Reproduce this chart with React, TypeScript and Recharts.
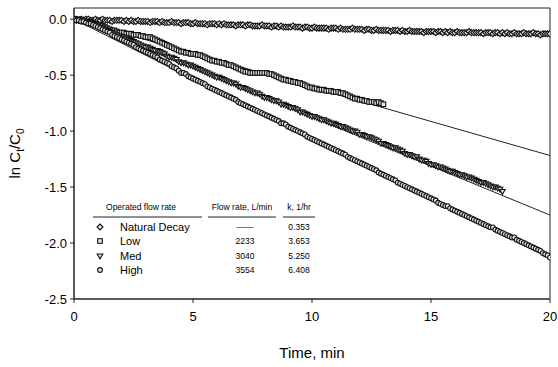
import {
  ComposedChart,
  Label,
  ReferenceArea,
  Scatter,
  XAxis,
  YAxis,
} from 'recharts'

// sampling interval of the logged concentrations, min
const SAMPLE_STEP = 0.1

const NATURAL_DECAY = [
  0.0, 0.0, -0.01, 0.0, -0.01, 0.0, 0.0, -0.01, -0.01, 0.0,
  -0.01, -0.01, 0.0, -0.01, -0.01, -0.01, -0.02, -0.01, -0.01, -0.01,
  -0.01, -0.02, -0.01, -0.02, -0.01, -0.02, -0.02, -0.01, -0.02, -0.02,
  -0.02, -0.02, -0.03, -0.02, -0.02, -0.02, -0.03, -0.02, -0.03, -0.03,
  -0.03, -0.02, -0.03, -0.03, -0.03, -0.04, -0.03, -0.03, -0.03, -0.04,
  -0.04, -0.03, -0.04, -0.04, -0.04, -0.04, -0.05, -0.04, -0.04, -0.04,
  -0.05, -0.04, -0.05, -0.04, -0.05, -0.05, -0.05, -0.05, -0.06, -0.05,
  -0.05, -0.05, -0.06, -0.05, -0.05, -0.06, -0.06, -0.06, -0.06, -0.05,
  -0.06, -0.06, -0.06, -0.07, -0.06, -0.06, -0.07, -0.06, -0.07, -0.07,
  -0.07, -0.07, -0.06, -0.07, -0.07, -0.07, -0.08, -0.07, -0.07, -0.08,
  -0.08, -0.07, -0.08, -0.08, -0.08, -0.08, -0.08, -0.09, -0.08, -0.08,
  -0.08, -0.09, -0.08, -0.09, -0.09, -0.09, -0.09, -0.08, -0.09, -0.09,
  -0.09, -0.09, -0.1, -0.09, -0.09, -0.1, -0.1, -0.09, -0.1, -0.1,
  -0.1, -0.1, -0.1, -0.11, -0.1, -0.1, -0.1, -0.11, -0.1, -0.11,
  -0.11, -0.1, -0.11, -0.11, -0.11, -0.11, -0.11, -0.12, -0.11, -0.11,
  -0.11, -0.11, -0.12, -0.11, -0.11, -0.12, -0.11, -0.12, -0.11, -0.12,
  -0.12, -0.11, -0.12, -0.12, -0.12, -0.12, -0.11, -0.12, -0.12, -0.12,
  -0.12, -0.12, -0.13, -0.12, -0.12, -0.12, -0.13, -0.12, -0.12, -0.13,
  -0.12, -0.13, -0.12, -0.13, -0.13, -0.12, -0.13, -0.13, -0.13, -0.12,
  -0.13, -0.13, -0.13, -0.12, -0.13, -0.13, -0.14, -0.13, -0.13, -0.13,
  -0.13,
]

const LOW_FLOW = [
  0.0, -0.01, 0.0, -0.01, -0.02, -0.02, -0.03, -0.02, -0.03, -0.04,
  -0.05, -0.05, -0.06, -0.07, -0.08, -0.09, -0.1, -0.1, -0.11, -0.12,
  -0.12, -0.12, -0.13, -0.13, -0.13, -0.14, -0.14, -0.14, -0.15, -0.15,
  -0.16, -0.16, -0.16, -0.17, -0.18, -0.19, -0.2, -0.21, -0.22, -0.23,
  -0.24, -0.25, -0.26, -0.27, -0.28, -0.29, -0.29, -0.3, -0.3, -0.31,
  -0.31, -0.31, -0.32, -0.32, -0.33, -0.34, -0.35, -0.36, -0.37, -0.37,
  -0.38, -0.38, -0.39, -0.39, -0.4, -0.41, -0.41, -0.42, -0.43, -0.44,
  -0.45, -0.46, -0.47, -0.47, -0.48, -0.48, -0.48, -0.48, -0.48, -0.48,
  -0.48, -0.48, -0.49, -0.49, -0.5, -0.51, -0.52, -0.53, -0.54, -0.54,
  -0.55, -0.55, -0.56, -0.56, -0.57, -0.57, -0.58, -0.59, -0.6, -0.61,
  -0.61, -0.62, -0.62, -0.63, -0.63, -0.63, -0.64, -0.64, -0.64, -0.65,
  -0.65, -0.65, -0.66, -0.66, -0.67, -0.68, -0.69, -0.7, -0.71, -0.71,
  -0.72, -0.72, -0.73, -0.73, -0.74, -0.74, -0.74, -0.75, -0.74, -0.75,
  -0.76,
]

const MED_FLOW = [
  0.0, -0.01, -0.01, 0.0, -0.01, -0.02, -0.02, -0.03, -0.04, -0.05,
  -0.06, -0.07, -0.08, -0.09, -0.1, -0.11, -0.12, -0.13, -0.14, -0.15,
  -0.16, -0.16, -0.17, -0.18, -0.19, -0.2, -0.21, -0.22, -0.23, -0.24,
  -0.25, -0.25, -0.26, -0.27, -0.28, -0.28, -0.29, -0.3, -0.31, -0.33,
  -0.34, -0.34, -0.35, -0.36, -0.38, -0.39, -0.39, -0.4, -0.41, -0.41,
  -0.42, -0.43, -0.44, -0.45, -0.46, -0.47, -0.48, -0.49, -0.5, -0.51,
  -0.52, -0.52, -0.53, -0.54, -0.55, -0.56, -0.57, -0.57, -0.58, -0.6,
  -0.61, -0.61, -0.62, -0.63, -0.64, -0.65, -0.66, -0.66, -0.67, -0.69,
  -0.7, -0.7, -0.71, -0.72, -0.73, -0.73, -0.74, -0.76, -0.76, -0.77,
  -0.78, -0.79, -0.79, -0.8, -0.81, -0.83, -0.83, -0.84, -0.85, -0.86,
  -0.87, -0.87, -0.88, -0.89, -0.9, -0.9, -0.91, -0.92, -0.93, -0.93,
  -0.94, -0.95, -0.96, -0.96, -0.97, -0.98, -0.99, -1.0, -1.0, -1.01,
  -1.03, -1.03, -1.04, -1.05, -1.05, -1.06, -1.07, -1.08, -1.09, -1.11,
  -1.11, -1.12, -1.13, -1.14, -1.15, -1.15, -1.16, -1.17, -1.18, -1.2,
  -1.21, -1.21, -1.22, -1.23, -1.23, -1.25, -1.26, -1.26, -1.27, -1.29,
  -1.3, -1.3, -1.31, -1.32, -1.32, -1.33, -1.34, -1.35, -1.36, -1.36,
  -1.37, -1.38, -1.39, -1.39, -1.4, -1.41, -1.41, -1.42, -1.43, -1.44,
  -1.45, -1.46, -1.46, -1.47, -1.48, -1.49, -1.5, -1.5, -1.51, -1.52,
  -1.54,
]

const HIGH_FLOW = [
  0.0, -0.01, -0.01, -0.02, -0.02, -0.03, -0.04, -0.04, -0.05, -0.06,
  -0.07, -0.08, -0.09, -0.1, -0.11, -0.12, -0.14, -0.15, -0.16, -0.17,
  -0.18, -0.19, -0.2, -0.21, -0.22, -0.23, -0.25, -0.26, -0.27, -0.28,
  -0.29, -0.3, -0.31, -0.32, -0.33, -0.34, -0.36, -0.37, -0.38, -0.39,
  -0.4, -0.42, -0.43, -0.44, -0.46, -0.48, -0.48, -0.49, -0.51, -0.52,
  -0.53, -0.54, -0.55, -0.56, -0.57, -0.58, -0.6, -0.61, -0.62, -0.63,
  -0.64, -0.65, -0.66, -0.67, -0.68, -0.69, -0.7, -0.71, -0.72, -0.74,
  -0.75, -0.76, -0.77, -0.78, -0.79, -0.8, -0.81, -0.82, -0.83, -0.84,
  -0.85, -0.86, -0.87, -0.88, -0.89, -0.9, -0.91, -0.93, -0.93, -0.94,
  -0.96, -0.97, -0.98, -0.99, -1.0, -1.01, -1.02, -1.03, -1.05, -1.06,
  -1.07, -1.08, -1.09, -1.1, -1.11, -1.12, -1.13, -1.14, -1.15, -1.16,
  -1.17, -1.18, -1.19, -1.2, -1.21, -1.23, -1.24, -1.25, -1.26, -1.27,
  -1.28, -1.29, -1.3, -1.31, -1.32, -1.33, -1.34, -1.35, -1.37, -1.38,
  -1.39, -1.4, -1.41, -1.42, -1.43, -1.44, -1.46, -1.47, -1.48, -1.49,
  -1.5, -1.51, -1.52, -1.53, -1.54, -1.55, -1.56, -1.57, -1.58, -1.59,
  -1.6, -1.61, -1.62, -1.64, -1.65, -1.66, -1.67, -1.67, -1.69, -1.7,
  -1.71, -1.72, -1.73, -1.74, -1.75, -1.76, -1.77, -1.78, -1.79, -1.8,
  -1.81, -1.82, -1.83, -1.84, -1.85, -1.86, -1.86, -1.88, -1.89, -1.9,
  -1.91, -1.92, -1.93, -1.94, -1.95, -1.95, -1.97, -1.98, -1.99, -2.0,
  -2.01, -2.02, -2.03, -2.04, -2.05, -2.06, -2.07, -2.09, -2.1, -2.11,
  -2.13,
]

// first-order fit lines, end points at 0 and 20 min
const FIT_TIMES = [0, 20]
const LOW_FIT = [0, -1.218]
const MED_FIT = [0, -1.75]
const HIGH_FIT = [0, -2.136]

const X_TICKS = [0, 5, 10, 15, 20]
const Y_TICKS = [-2.5, -2.0, -1.5, -1.0, -0.5, 0.0]

const LEGEND_NAMES = ['Natural Decay', 'Low', 'Med', 'High']
const LEGEND_FLOWS = ['\u2014\u2014', '2233', '3040', '3554']
const LEGEND_K = ['0.353', '3.653', '5.250', '6.408']

const FONT = '"Liberation Sans", Arial, sans-serif'
const INK = '#222'

const toPoints = (vals: number[]) =>
  vals.map((y, i) => ({ x: Math.round(i * SAMPLE_STEP * 10) / 10, y }))
const toLine = (vals: number[]) => FIT_TIMES.map((x, i) => ({ x, y: vals[i] }))

type Kind = 'diamond' | 'square' | 'tri' | 'circle'

function Marker({ cx, cy, kind }: { cx: number; cy: number; kind: Kind }) {
  const common = { fill: '#e6e6e6', stroke: '#111', strokeWidth: 1.1 }
  if (kind === 'diamond')
    return (
      <polygon
        points={`${cx},${cy - 3} ${cx + 3},${cy} ${cx},${cy + 3} ${cx - 3},${cy}`}
        {...common}
      />
    )
  if (kind === 'square')
    return <rect x={cx - 2.3} y={cy - 2.3} width={4.6} height={4.6} {...common} />
  if (kind === 'tri')
    return (
      <polygon
        points={`${cx - 2.8},${cy - 2} ${cx + 2.8},${cy - 2} ${cx},${cy + 2.8}`}
        {...common}
      />
    )
  return <circle cx={cx} cy={cy} r={2.4} {...common} />
}

const shapeOf = (kind: Kind) => (p: any) =>
  p.cx == null ? <g /> : <Marker cx={p.cx} cy={p.cy} kind={kind} />

const KINDS: Kind[] = ['diamond', 'square', 'tri', 'circle']

function LegendTable() {
  const rowY = [227, 241, 256, 270]
  return (
    <svg
      width={558}
      height={367}
      style={{ position: 'absolute', left: 0, top: 0, pointerEvents: 'none' }}
    >
      <g fontFamily={FONT} fill="#000">
        <text x={141} y={210} fontSize={8.5} textAnchor="middle">
          Operated flow rate
        </text>
        <text x={242} y={210} fontSize={8.5} textAnchor="middle">
          Flow rate, L/min
        </text>
        <text x={299} y={210} fontSize={8.5} textAnchor="middle">
          k, 1/hr
        </text>
        <line x1={93} x2={202} y1={217} y2={217} stroke={INK} />
        <line x1={208} x2={276} y1={217} y2={217} stroke={INK} />
        <line x1={283} x2={315} y1={217} y2={217} stroke={INK} />
        {LEGEND_NAMES.map((name, i) => (
          <g key={name}>
            <Marker cx={100} cy={rowY[i]} kind={KINDS[i]} />
            <text x={120} y={rowY[i] + 4} fontSize={11}>
              {name}
            </text>
            <text x={245} y={rowY[i] + 3} fontSize={8.5} textAnchor="middle">
              {LEGEND_FLOWS[i]}
            </text>
            <text x={299} y={rowY[i] + 3} fontSize={8.5} textAnchor="middle">
              {LEGEND_K[i]}
            </text>
          </g>
        ))}
      </g>
    </svg>
  )
}

function YTitle({ viewBox }: any) {
  const cx = 20
  const cy = viewBox ? viewBox.y + viewBox.height / 2 : 153
  return (
    <text
      x={cx}
      y={cy}
      transform={`rotate(-90, ${cx}, ${cy})`}
      textAnchor="middle"
      fontFamily={FONT}
      fontSize={15}
      fill="#000"
    >
      ln C<tspan dy={4} fontSize={10}>t</tspan>
      <tspan dy={-4}>/C</tspan>
      <tspan dy={4} fontSize={10}>0</tspan>
    </text>
  )
}

export default function App() {
  const tick = { fontSize: 13, fill: '#000', fontFamily: FONT }
  return (
    <div style={{ position: 'absolute', left: 0, top: 0, width: 558, height: 367, background: '#fff' }}>
      <ComposedChart width={558} height={367} margin={{ top: 8, right: 8, bottom: 0, left: 0 }}>
        <XAxis
          type="number"
          dataKey="x"
          domain={[0, 20]}
          ticks={X_TICKS}
          height={68}
          tick={tick}
          tickSize={4}
          tickMargin={9}
          stroke={INK}
          allowDataOverflow
        >
          <Label
            value="Time, min"
            position="insideBottom"
            offset={9}
            style={{ fontSize: 15, fill: '#000', fontFamily: FONT }}
          />
        </XAxis>
        <YAxis
          type="number"
          dataKey="y"
          domain={[-2.5, 0.1]}
          ticks={Y_TICKS}
          width={74}
          tick={tick}
          tickSize={4}
          tickMargin={3}
          tickFormatter={(v: number) => v.toFixed(1)}
          stroke={INK}
          allowDataOverflow
        >
          <Label content={<YTitle />} />
        </YAxis>
        <ReferenceArea x1={0} x2={20} y1={-2.5} y2={0.1} fill="none" stroke={INK} strokeWidth={1} />
        <Scatter data={toLine(LOW_FIT)} line={{ stroke: INK, strokeWidth: 1 }} shape={() => <g />} isAnimationActive={false} />
        <Scatter data={toLine(MED_FIT)} line={{ stroke: INK, strokeWidth: 1 }} shape={() => <g />} isAnimationActive={false} />
        <Scatter data={toLine(HIGH_FIT)} line={{ stroke: INK, strokeWidth: 1 }} shape={() => <g />} isAnimationActive={false} />
        <Scatter data={toPoints(NATURAL_DECAY)} shape={shapeOf('diamond')} isAnimationActive={false} />
        <Scatter data={toPoints(LOW_FLOW)} shape={shapeOf('square')} isAnimationActive={false} />
        <Scatter data={toPoints(MED_FLOW)} shape={shapeOf('tri')} isAnimationActive={false} />
        <Scatter data={toPoints(HIGH_FLOW)} shape={shapeOf('circle')} isAnimationActive={false} />
      </ComposedChart>
      <LegendTable />
    </div>
  )
}
